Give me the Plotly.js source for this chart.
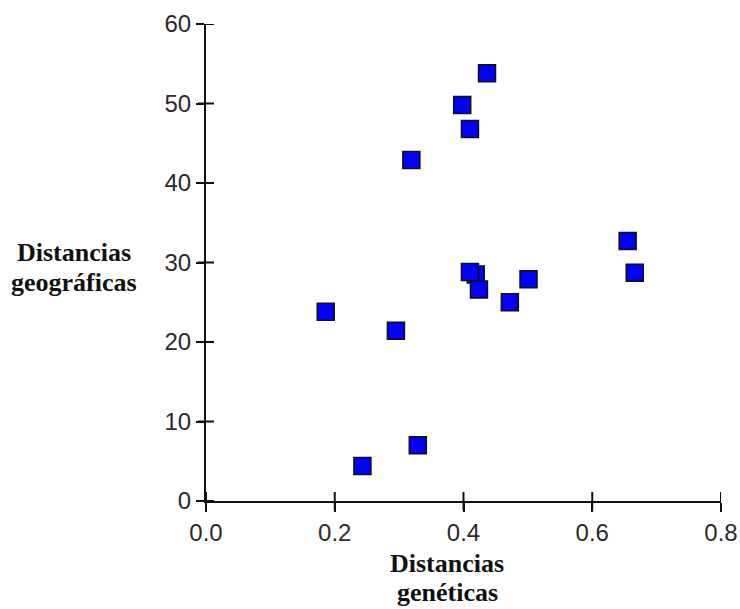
<!DOCTYPE html>
<html>
<head>
<meta charset="utf-8">
<script src="https://cdn.plot.ly/plotly-3.0.1.min.js"></script>
<style>html,body{margin:0;padding:0;background:#fff;}#chart{width:740px;height:609px;}</style>
</head>
<body>
<div id="chart"></div>
<script>
// Genetic distance (x) vs geographic distance (y)
const distGeneticas = [0.4365, 0.398, 0.410, 0.319, 0.655, 0.666, 0.419, 0.410, 0.424, 0.501, 0.472, 0.186, 0.295, 0.329, 0.243];
const distGeograficas = [53.8, 49.8, 46.8, 42.9, 32.7, 28.7, 28.5, 28.8, 26.6, 27.9, 25.0, 23.8, 21.4, 7.0, 4.4];
const xTicks = [0, 0.2, 0.4, 0.6, 0.8];
const xTickText = ["0.0", "0.2", "0.4", "0.6", "0.8"];
const yTicks = [0, 10, 20, 30, 40, 50, 60];
const xTitleLines = ["Distancias", "genéticas"];
const yTitleLines = ["Distancias", "geográficas"];

const tickFont = {family: "Liberation Sans, Arial, sans-serif", size: 24, color: "#2a2a2a"};
const titleFont = {family: "Liberation Serif, Times New Roman, serif", size: 26, color: "#111", weight: "bold"};

const traces = [
  {
    type: "scatter", mode: "markers",
    x: distGeneticas, y: distGeograficas,
    marker: {symbol: "square", size: 17, color: "#0000FF", line: {color: "#111", width: 1.5}},
    cliponaxis: false, showlegend: false, hoverinfo: "x+y"
  }
];

// crossing tick marks derived from tick arrays
const shapes = [];
xTicks.forEach(v => shapes.push({
  type: "line", xref: "x", x0: v, x1: v, yref: "paper", ysizemode: "pixel", yanchor: 0, y0: -9, y1: 9,
  line: {color: "#111", width: 2}
}));
yTicks.forEach(v => shapes.push({
  type: "line", yref: "y", y0: v, y1: v, xref: "paper", xsizemode: "pixel", xanchor: 0, x0: -8, x1: 8,
  line: {color: "#111", width: 2}
}));

const annotations = [];
const xTitleY = [-0.130, -0.191];
xTitleLines.forEach((t, i) => annotations.push({
  text: t, xref: "paper", yref: "paper", x: 0.468, y: xTitleY[i], xanchor: "center", yanchor: "middle",
  showarrow: false, font: titleFont
}));
const yTitleY = [0.522, 0.459];
yTitleLines.forEach((t, i) => annotations.push({
  text: t, xref: "paper", yref: "paper", x: -0.256, y: yTitleY[i], xanchor: "center", yanchor: "middle",
  showarrow: false, font: titleFont
}));

const layout = {
  width: 740, height: 609,
  margin: {l: 206, r: 19, t: 24, b: 108},
  paper_bgcolor: "#fff", plot_bgcolor: "#fff",
  showlegend: false,
  xaxis: {
    range: [0, 0.8], tickvals: xTicks, ticktext: xTickText,
    ticks: "outside", ticklen: 9, tickwidth: 2, tickcolor: "#111",
    showline: true, linecolor: "#111", linewidth: 2,
    showgrid: false, zeroline: false, tickfont: tickFont, fixedrange: true
  },
  yaxis: {
    range: [0, 60], tickvals: yTicks,
    ticks: "outside", ticklen: 8, tickwidth: 2, tickcolor: "#111",
    showline: true, linecolor: "#111", linewidth: 2,
    showgrid: false, zeroline: false, tickfont: tickFont, fixedrange: true
  },
  shapes: shapes,
  annotations: annotations
};

Plotly.newPlot("chart", traces, layout, {displayModeBar: false, staticPlot: true});
</script>
</body>
</html>
